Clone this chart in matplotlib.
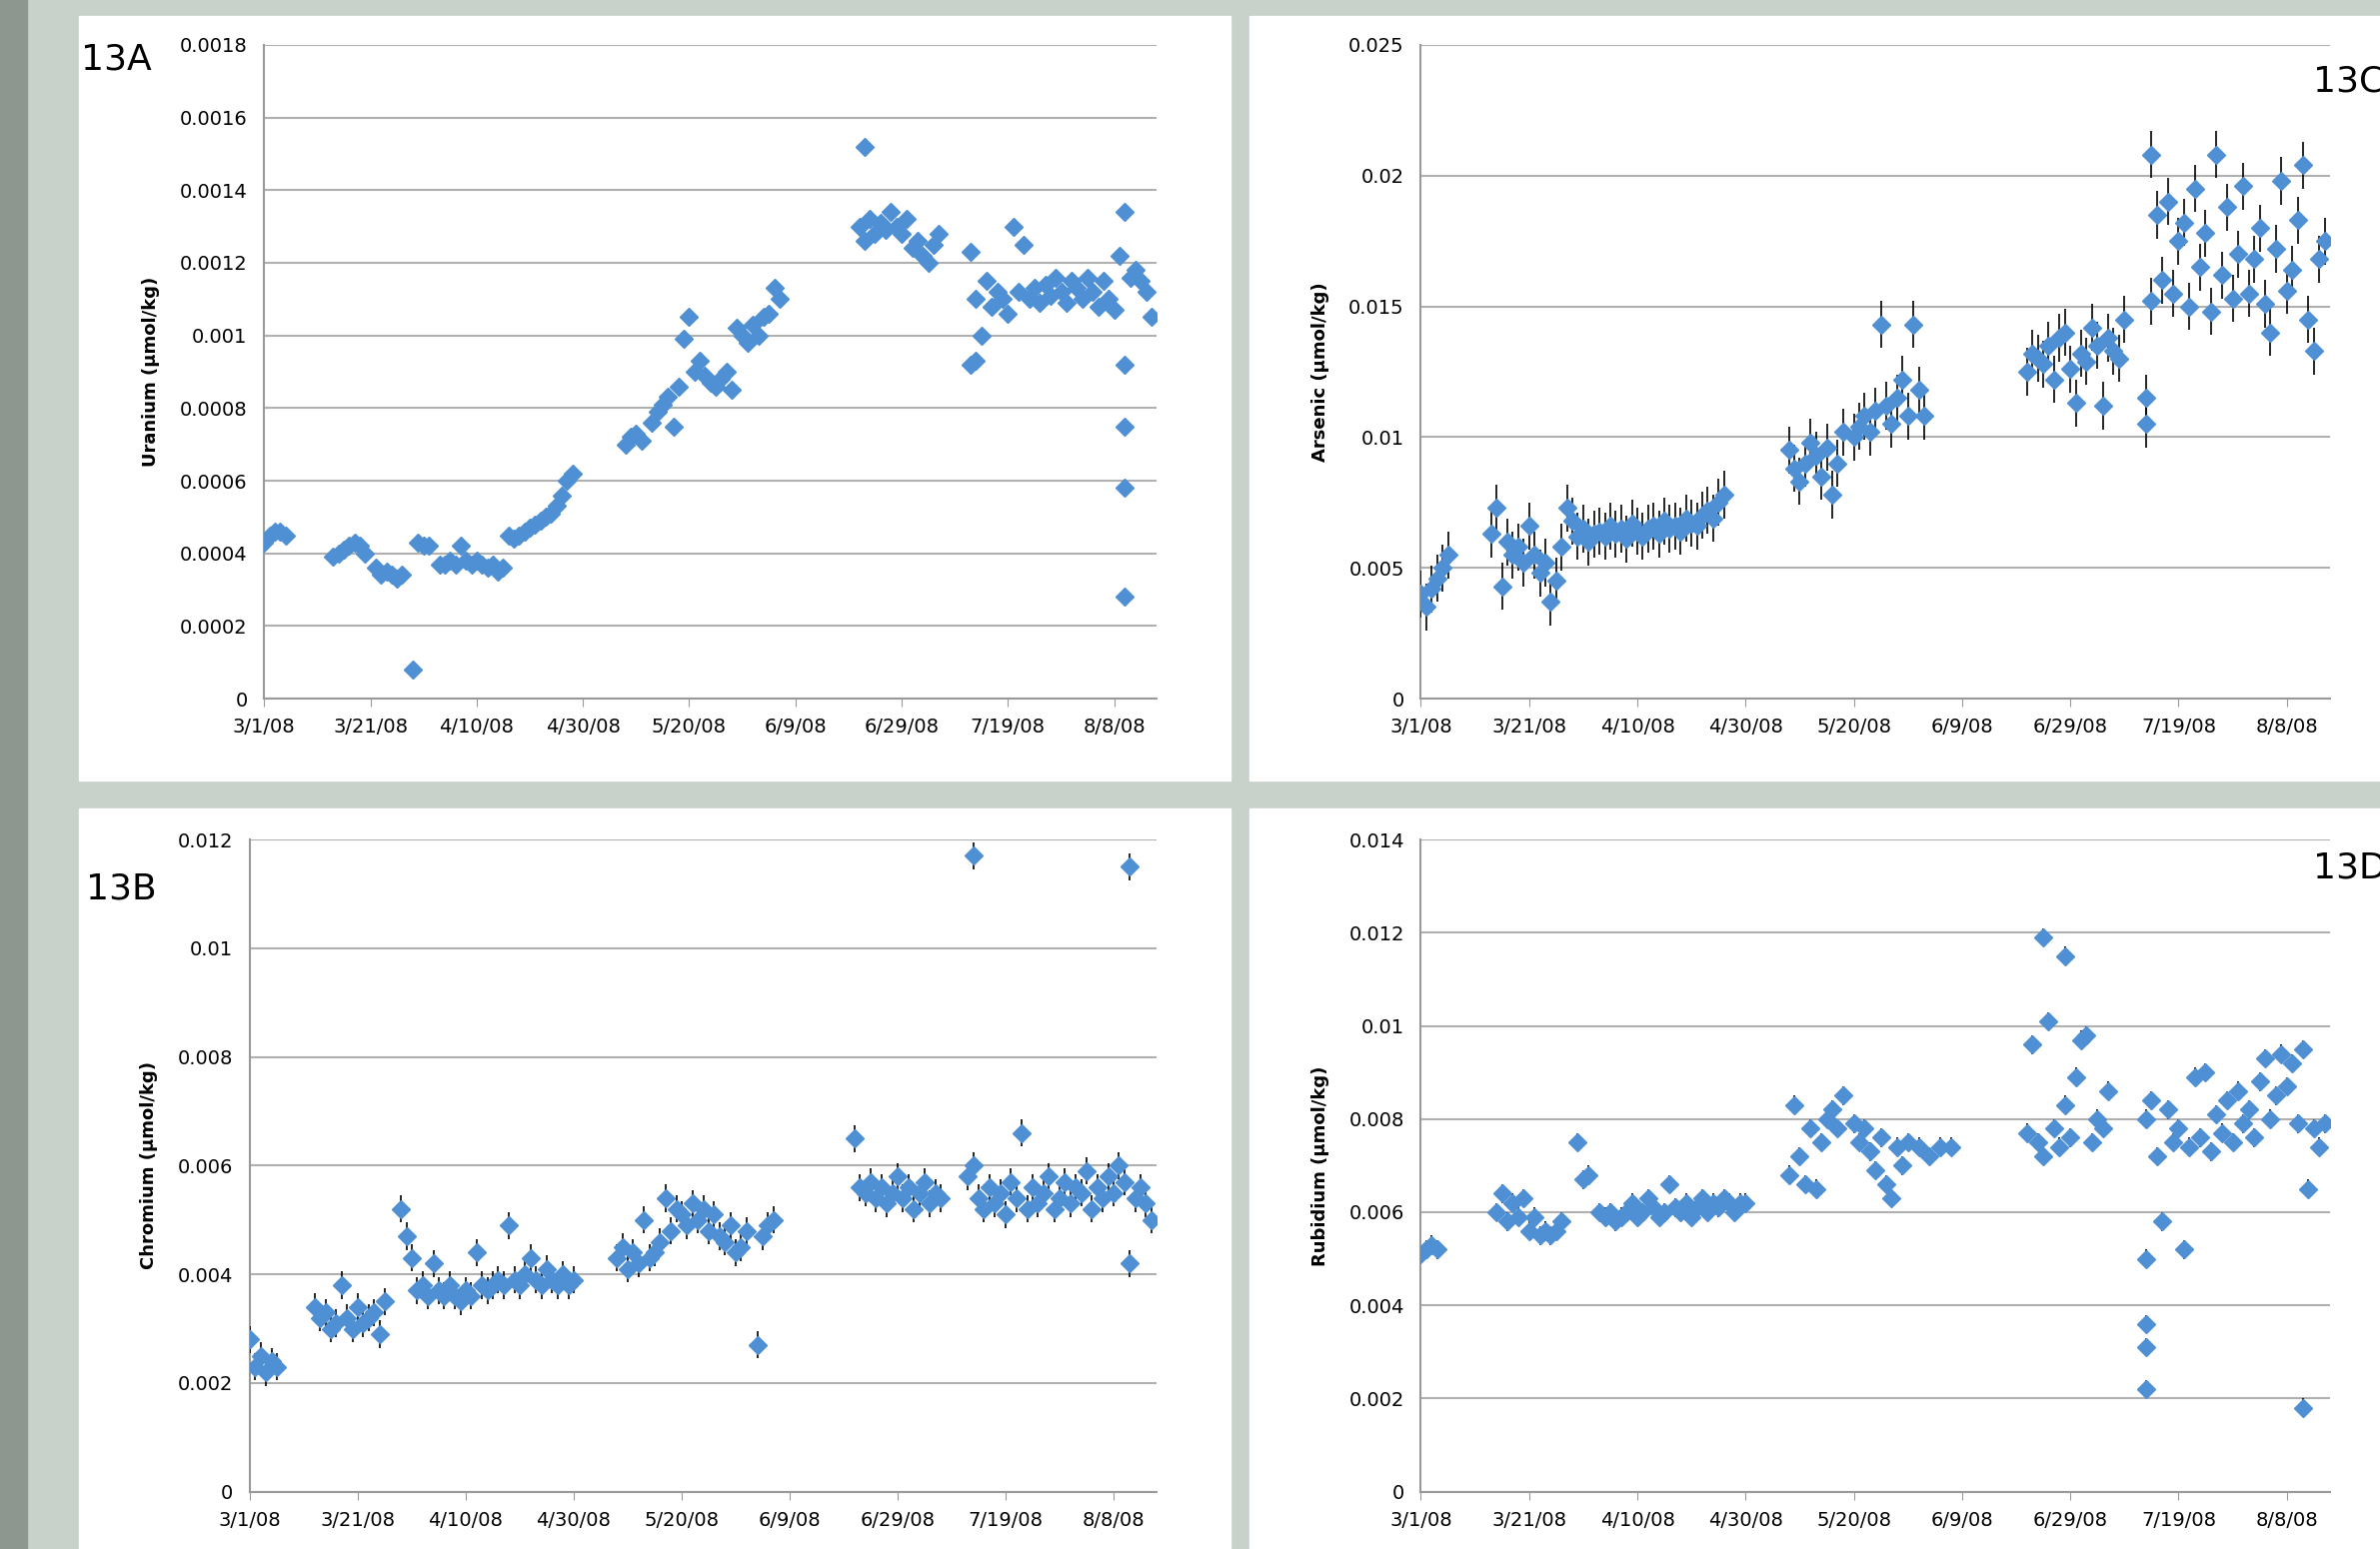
import matplotlib.pyplot as plt
from matplotlib.patches import Rectangle

tick_days = [0, 20, 40, 60, 80, 100, 120, 140, 160]
tick_labels = ["3/1/08", "3/21/08", "4/10/08", "4/30/08", "5/20/08", "6/9/08", "6/29/08", "7/19/08", "8/8/08"]

# Uranium (1e-4 umol/kg)
u_days = [0, 1, 2, 3, 4, 13, 14, 15, 16, 17, 18, 19, 21, 22, 23, 24, 25, 26, 28, 29, 30, 31,
          33, 34, 35, 36, 37, 38, 39, 40, 41, 42, 43, 44, 45, 46, 47, 48, 49, 50, 51, 52, 53, 54, 55, 56, 57, 58,
          68, 69, 70, 71, 73, 74, 75, 76, 77, 78, 79, 80, 81, 82, 83, 84, 85, 86, 87, 88, 89, 90, 91, 92, 93, 94, 95, 96, 97,
          112, 113, 113, 114, 115, 116, 117, 118, 119, 120, 121, 122, 123, 124, 125, 126, 127,
          133, 133, 134, 134, 135, 136, 137, 138, 139, 140, 141, 142, 143, 144, 145, 146, 147, 148, 149, 150, 151, 152,
          153, 154, 155, 156, 157, 158, 159, 160, 161, 162, 162, 162, 162, 162, 163, 164, 165, 166, 167]
u_vals = [4.3, 4.5, 4.6, 4.6, 4.5, 3.9, 4.0, 4.1, 4.2, 4.3, 4.2, 4.0, 3.6, 3.4, 3.5, 3.4, 3.3, 3.4, 0.8, 4.3, 4.2, 4.2,
          3.7, 3.7, 3.8, 3.7, 4.2, 3.8, 3.7, 3.8, 3.7, 3.6, 3.7, 3.5, 3.6, 4.5, 4.4, 4.5, 4.6, 4.7, 4.8, 4.9, 5.0, 5.1, 5.3, 5.6, 6.0, 6.2,
          7.0, 7.2, 7.3, 7.1, 7.6, 7.9, 8.1, 8.3, 7.5, 8.6, 9.9, 10.5, 9.0, 9.3, 8.9, 8.7, 8.6, 8.8, 9.0, 8.5, 10.2, 10.0, 9.8, 10.3, 10.0, 10.5, 10.6, 11.3, 11.0,
          13.0, 12.6, 15.2, 13.2, 12.8, 13.1, 12.9, 13.4, 13.0, 12.8, 13.2, 12.4, 12.6, 12.2, 12.0, 12.5, 12.8,
          9.2, 12.3, 9.3, 11.0, 10.0, 11.5, 10.8, 11.2, 11.0, 10.6, 13.0, 11.2, 12.5, 11.0, 11.3, 10.9, 11.4, 11.1, 11.6, 11.2, 10.9, 11.5,
          11.3, 11.0, 11.6, 11.2, 10.8, 11.5, 11.0, 10.7, 12.2, 13.4, 9.2, 7.5, 5.8, 2.8, 11.6, 11.8, 11.5, 11.2, 10.5]

# Arsenic (1e-3 umol/kg)
a_days = [0, 1, 2, 3, 4, 5, 13, 14, 15, 16, 17, 18, 19, 20, 21, 22, 23, 24, 25, 26, 27, 28,
          29, 30, 31, 32, 33, 34, 35, 36, 37, 38, 39, 40, 41, 42, 43, 44, 45, 46, 47, 48, 49, 50, 51, 52, 53, 54, 55, 56,
          68, 69, 70, 71, 72, 73, 74, 75, 76, 77, 78, 80, 81, 82, 83, 84, 85, 86, 87, 88, 89, 90, 91, 92, 93,
          112, 113, 114, 115, 116, 117, 118, 119, 120, 121, 122, 123, 124, 125, 126, 127, 128, 129, 130,
          134, 134, 135, 135, 136, 137, 138, 139, 140, 141, 142, 143, 144, 145, 146, 147, 148, 149, 150, 151, 152,
          153, 154, 155, 156, 157, 158, 159, 160, 161, 162, 163, 164, 165, 166, 167]
a_vals = [4.0, 3.5, 4.2, 4.6, 5.0, 5.5, 6.3, 7.3, 4.3, 6.0, 5.5, 5.8, 5.2, 6.6, 5.5, 4.8, 5.2, 3.7, 4.5, 5.8, 7.3, 6.8,
          6.2, 6.5, 6.0, 6.3, 6.4, 6.2, 6.6, 6.3, 6.5, 6.1, 6.7, 6.4, 6.2, 6.5, 6.6, 6.3, 6.8, 6.5, 6.6, 6.4, 6.9, 6.7, 6.6, 7.0, 7.2, 6.9, 7.5, 7.8,
          9.5, 8.8, 8.3, 9.0, 9.8, 9.3, 8.5, 9.6, 7.8, 9.0, 10.2, 10.0, 10.4, 10.8, 10.2, 11.0, 14.3, 11.2, 10.5, 11.5, 12.2, 10.8, 14.3, 11.8, 10.8,
          12.5, 13.2, 13.0, 12.8, 13.5, 12.2, 13.8, 14.0, 12.6, 11.3, 13.2, 12.9, 14.2, 13.5, 11.2, 13.8, 13.3, 13.0, 14.5,
          10.5, 11.5, 20.8, 15.2, 18.5, 16.0, 19.0, 15.5, 17.5, 18.2, 15.0, 19.5, 16.5, 17.8, 14.8, 20.8, 16.2, 18.8, 15.3, 17.0, 19.6,
          15.5, 16.8, 18.0, 15.1, 14.0, 17.2, 19.8, 15.6, 16.4, 18.3, 20.4, 14.5, 13.3, 16.8, 17.5]

# Chromium (1e-3 umol/kg)
c_days = [0, 1, 2, 3, 4, 5, 12, 13, 14, 15, 16, 17, 18, 19, 20, 21, 22, 23, 24, 25,
          28, 29, 30, 31, 32, 33, 34, 35, 36, 37, 38, 39, 40, 41, 42, 43, 44, 45, 46, 47, 48, 49, 50, 51, 52, 53, 54, 55, 56, 57, 58, 59, 60,
          68, 69, 70, 71, 72, 73, 74, 75, 76, 77, 78, 79, 80, 81, 82, 83, 84, 85, 86, 87, 88, 89, 90, 91, 92, 94, 95, 96, 97,
          112, 113, 114, 115, 116, 117, 118, 119, 120, 121, 122, 123, 124, 125, 126, 127, 128,
          133, 134, 134, 135, 136, 137, 138, 139, 140, 141, 142, 143, 144, 145, 146, 147, 148, 149, 150, 151, 152,
          153, 154, 155, 156, 157, 158, 159, 160, 161, 162, 163, 163, 164, 165, 166, 167]
c_vals = [2.8, 2.3, 2.5, 2.2, 2.4, 2.3, 3.4, 3.2, 3.3, 3.0, 3.1, 3.8, 3.2, 3.0, 3.4, 3.1, 3.2, 3.3, 2.9, 3.5,
          5.2, 4.7, 4.3, 3.7, 3.8, 3.6, 4.2, 3.7, 3.6, 3.8, 3.6, 3.5, 3.7, 3.6, 4.4, 3.8, 3.7, 3.8, 3.9, 3.8, 4.9, 3.9, 3.8, 4.0, 4.3, 3.9, 3.8, 4.1, 3.9, 3.8, 4.0, 3.8, 3.9,
          4.3, 4.5, 4.1, 4.4, 4.2, 5.0, 4.3, 4.4, 4.6, 5.4, 4.8, 5.2, 5.1, 4.9, 5.3, 5.0, 5.2, 4.8, 5.1, 4.7, 4.6, 4.9, 4.4, 4.5, 4.8, 2.7, 4.7, 4.9, 5.0,
          6.5, 5.6, 5.5, 5.7, 5.4, 5.6, 5.3, 5.5, 5.8, 5.4, 5.6, 5.2, 5.5, 5.7, 5.3, 5.5, 5.4,
          5.8, 11.7, 6.0, 5.4, 5.2, 5.6, 5.3, 5.5, 5.1, 5.7, 5.4, 6.6, 5.2, 5.6, 5.3, 5.5, 5.8, 5.2, 5.4, 5.7, 5.3,
          5.6, 5.5, 5.9, 5.2, 5.6, 5.4, 5.8, 5.5, 6.0, 5.7, 11.5, 4.2, 5.4, 5.6, 5.3, 5.0]

# Rubidium (1e-3 umol/kg)
r_days = [0, 1, 2, 3, 14, 15, 16, 17, 18, 19, 20, 21, 22, 23, 24, 25, 26, 29, 30, 31,
          33, 34, 35, 36, 37, 38, 39, 40, 41, 42, 43, 44, 45, 46, 47, 48, 49, 50, 51, 52, 53, 54, 55, 56, 57, 58, 59, 60,
          68, 69, 70, 71, 72, 73, 74, 75, 76, 77, 78, 80, 81, 82, 83, 84, 85, 86, 87, 88, 89, 90, 92, 94, 96, 98,
          112, 113, 114, 115, 115, 116, 117, 118, 119, 119, 120, 121, 122, 123, 124, 125, 126, 127,
          134, 134, 134, 134, 134, 135, 136, 137, 138, 139, 140, 141, 142, 143, 144, 145, 146, 147, 148, 149, 150, 151, 152,
          153, 154, 155, 156, 157, 158, 159, 160, 161, 162, 163, 163, 164, 165, 166, 167]
r_vals = [5.1, 5.2, 5.3, 5.2, 6.0, 6.4, 5.8, 6.2, 5.9, 6.3, 5.6, 5.9, 5.5, 5.6, 5.5, 5.6, 5.8, 7.5, 6.7, 6.8,
          6.0, 5.9, 6.0, 5.8, 5.9, 6.0, 6.2, 5.9, 6.0, 6.3, 6.1, 5.9, 6.0, 6.6, 6.1, 6.0, 6.2, 5.9, 6.1, 6.3, 6.0, 6.2, 6.1, 6.3, 6.2, 6.0, 6.2, 6.2,
          6.8, 8.3, 7.2, 6.6, 7.8, 6.5, 7.5, 8.0, 8.2, 7.8, 8.5, 7.9, 7.5, 7.8, 7.3, 6.9, 7.6, 6.6, 6.3, 7.4, 7.0, 7.5, 7.4, 7.2, 7.4, 7.4,
          7.7, 9.6, 7.5, 11.9, 7.2, 10.1, 7.8, 7.4, 11.5, 8.3, 7.6, 8.9, 9.7, 9.8, 7.5, 8.0, 7.8, 8.6,
          8.0, 5.0, 3.6, 3.1, 2.2, 8.4, 7.2, 5.8, 8.2, 7.5, 7.8, 5.2, 7.4, 8.9, 7.6, 9.0, 7.3, 8.1, 7.7, 8.4, 7.5, 8.6, 7.9,
          8.2, 7.6, 8.8, 9.3, 8.0, 8.5, 9.4, 8.7, 9.2, 7.9, 9.5, 1.8, 6.5, 7.8, 7.4, 7.9]

fig = plt.figure(figsize=(23.81, 15.50), dpi=100)
fig.patch.set_facecolor("#c9d1cb")
fig.patches.append(Rectangle((0, 0), 0.0115, 1, transform=fig.transFigure, color="#8e978f", zorder=-2))
for x0, y0, w, h in [(0.033, 0.496, 0.484, 0.494), (0.525, 0.496, 0.48, 0.494),
                     (0.033, 0.0, 0.484, 0.478), (0.525, 0.0, 0.48, 0.478)]:
    fig.patches.append(Rectangle((x0, y0), w, h, transform=fig.transFigure, color="white", zorder=-1))

blue = "#4f8fd3"
panels = [
    ([0.111, 0.549, 0.375, 0.422], u_days, u_vals, 1e-4, 0.0018, 0.0002, "Uranium (µmol/kg)", 0.00002, "{:.4f}"),
    ([0.597, 0.549, 0.382, 0.422], a_days, a_vals, 1e-3, 0.025, 0.005, "Arsenic (µmol/kg)", 0.0009, "{:.3f}"),
    ([0.105, 0.037, 0.381, 0.421], c_days, c_vals, 1e-3, 0.012, 0.002, "Chromium (µmol/kg)", 0.00025, "{:.3f}"),
    ([0.597, 0.037, 0.382, 0.421], r_days, r_vals, 1e-3, 0.014, 0.002, "Rubidium (µmol/kg)", 0.0002, "{:.3f}"),
]
for rect, days, vals, scale, ymax, step, label, err, fmt in panels:
    ax = fig.add_axes(rect)
    ax.set_facecolor("white")
    y = [v * scale for v in vals]
    ax.errorbar(days, y, yerr=err, fmt="D", color=blue, ms=9, ecolor="black", elinewidth=1.2, zorder=3)
    ax.set_xlim(0, 168)
    ax.set_ylim(0, ymax)
    yt = [i * step for i in range(int(round(ymax / step)) + 1)]
    ax.set_yticks(yt)
    ax.set_yticklabels(["0" if t == 0 else fmt.format(t).rstrip("0") for t in yt], fontsize=14)
    ax.set_xticks(tick_days)
    ax.set_xticklabels(tick_labels, fontsize=14)
    ax.yaxis.grid(True, color="#b0b0b0", lw=1.5)
    ax.set_axisbelow(True)
    for s in ["top", "right"]:
        ax.spines[s].set_visible(False)
    for s in ["left", "bottom"]:
        ax.spines[s].set_color("#999999")
        ax.spines[s].set_linewidth(1.5)
    ax.tick_params(axis="y", length=0, pad=12)
    ax.tick_params(axis="x", direction="out", length=6, color="#999999", pad=8)
    ax.set_ylabel(label, fontsize=13, fontweight="bold", labelpad=14)
    for lab in ax.get_xticklabels() + ax.get_yticklabels():
        lab.set_clip_on(False)

fig.text(0.034, 0.955, "13A", fontsize=26)
fig.text(0.972, 0.941, "13C", fontsize=26)
fig.text(0.036, 0.420, "13B", fontsize=26)
fig.text(0.972, 0.433, "13D", fontsize=26)
fig.savefig("out.png", dpi=100)
